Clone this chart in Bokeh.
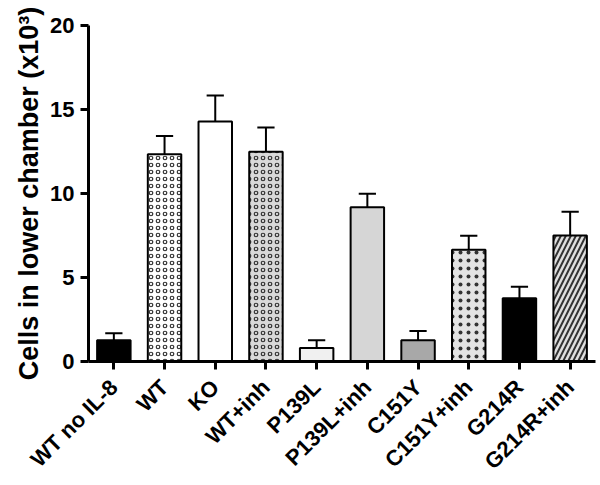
import numpy as np
from bokeh.plotting import figure
from bokeh.models import Range1d, FixedTicker, ColumnDataSource
from bokeh.embed import file_html
from bokeh.resources import INLINE

categories = ["WT no IL-8", "WT", "KO", "WT+inh", "P139L", "P139L+inh",
              "C151Y", "C151Y+inh", "G214R", "G214R+inh"]
means = [1.26, 12.33, 14.28, 12.48, 0.81, 9.18, 1.26, 6.65, 3.76, 7.50]
errors = [0.42, 1.10, 1.55, 1.45, 0.45, 0.81, 0.56, 0.83, 0.69, 1.42]
fills = ["#000000", "#ffffff", "#ffffff", "#d9d9d9", "#f0f0f0", "#d6d6d6",
         "#a8a8a8", "#e3e3e3", "#000000", "#e0e0e0"]
hatches = [" ", "ring", " ", "ring", " ", " ", " ", "dot", " ", "right_diagonal_line"]
hatch_scales = [6, 7, 6, 7, 6, 6, 6, 8, 6, 10]
hatch_weights = [1, 1.2, 1, 1.2, 1, 1, 1, 1.5, 1, 2]

FONT = "Liberation Sans"
xs = np.arange(len(categories))
means_a = np.array(means)
errs_a = np.array(errors)

src = ColumnDataSource(dict(x=xs, top=means, fill=fills, hatch=hatches,
                            hs=hatch_scales, hw=hatch_weights))

p = figure(width=600, height=485, output_backend="svg", toolbar_location=None,
           x_range=Range1d(-0.5, 9.5), y_range=Range1d(0, 20),
           min_border_left=88, min_border_right=5, min_border_top=25, min_border_bottom=123)
p.outline_line_color = None
p.xgrid.visible = False
p.ygrid.visible = False

p.vbar(x="x", top="top", bottom=0, width=0.66, source=src, fill_color="fill",
       line_color="black", line_width=2, hatch_pattern="hatch", hatch_scale="hs",
       hatch_color="#333333", hatch_weight="hw")

# error bars (upper only)
p.segment(x0=xs, y0=means_a, x1=xs, y1=means_a + errs_a, line_color="black", line_width=2)
p.segment(x0=xs - 0.17, y0=means_a + errs_a, x1=xs + 0.17, y1=means_a + errs_a,
          line_color="black", line_width=2)

p.xaxis.ticker = FixedTicker(ticks=list(xs))
p.xaxis.major_label_overrides = {int(i): c for i, c in zip(xs, categories)}
p.xaxis.major_label_orientation = np.pi / 4
p.xaxis.major_label_standoff = 14
p.yaxis.ticker = FixedTicker(ticks=[0, 5, 10, 15, 20])
p.yaxis.major_label_standoff = 6

for ax in (p.xaxis[0], p.yaxis[0]):
    ax.axis_line_width = 3
    ax.axis_line_color = "black"
    ax.major_tick_line_width = 3
    ax.major_tick_line_color = "black"
    ax.major_tick_out = 8
    ax.major_tick_in = 0
    ax.minor_tick_line_color = None
    ax.major_label_text_font = FONT
    ax.major_label_text_font_style = "bold"
    ax.major_label_text_color = "black"

p.xaxis.major_label_text_font_size = "22px"
p.yaxis.major_label_text_font_size = "22px"
p.yaxis.axis_label = "Cells in lower chamber (x10³)"
p.yaxis.axis_label_text_font = FONT
p.yaxis.axis_label_text_font_style = "bold"
p.yaxis.axis_label_text_font_size = "27px"
p.yaxis.axis_label_text_color = "black"
p.yaxis.axis_label_standoff = 3

open("out.html", "w").write(file_html(p, INLINE))
